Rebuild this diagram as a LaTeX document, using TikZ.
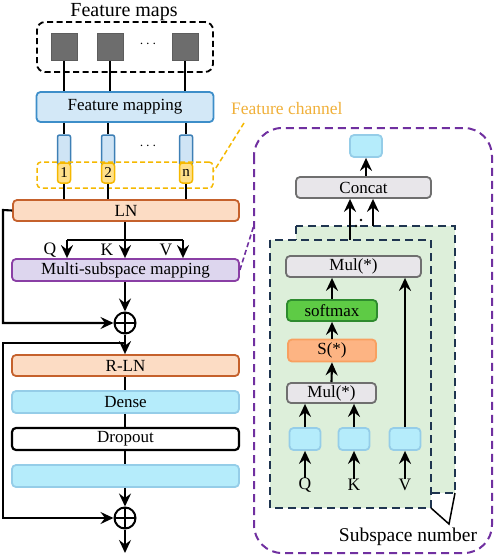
\documentclass[tikz,border=0pt]{standalone}
\usepackage{fontspec}
\setmainfont{Liberation Serif}
\usetikzlibrary{arrows.meta,calc}
\definecolor{sqgray}{HTML}{6D6D6D}
\definecolor{fmfill}{HTML}{D3E8F7}
\definecolor{fmdraw}{HTML}{3D8EC9}
\definecolor{tallfill}{HTML}{CFE4F5}
\definecolor{talldraw}{HTML}{3D7FB5}
\definecolor{yelfill}{HTML}{FFE08A}
\definecolor{yeldraw}{HTML}{F5B800}
\definecolor{chantext}{HTML}{F0B03A}
\definecolor{lnfill}{HTML}{FCDCC4}
\definecolor{lndraw}{HTML}{C5612C}
\definecolor{msfill}{HTML}{DDD6EE}
\definecolor{msdraw}{HTML}{8A3FA5}
\definecolor{cyfill}{HTML}{B5ECFB}
\definecolor{cydraw}{HTML}{95CDE8}
\definecolor{panel}{HTML}{7030A0}
\definecolor{grfill}{HTML}{DDEFDA}
\definecolor{navy}{HTML}{1F3550}
\definecolor{gyfill}{HTML}{E8E6EA}
\definecolor{gydraw}{HTML}{6F6F6F}
\definecolor{smfill}{HTML}{5ECB45}
\definecolor{smdraw}{HTML}{2E8B2E}
\definecolor{sfill}{HTML}{FDB483}
\definecolor{sdraw}{HTML}{F8A060}
\tikzset{
  bx/.style={rectangle, rounded corners=4pt, line width=1.8pt, inner sep=0pt,
    font=\fontsize{17}{18}\selectfont},
  sq/.style={rectangle, fill=sqgray, draw=sqgray!85!black, line width=0.6pt,
    minimum width=26pt, minimum height=27pt, inner sep=0pt},
  tall/.style={rectangle, rounded corners=2pt, fill=tallfill, draw=talldraw,
    line width=1.5pt, minimum width=13pt, minimum height=30pt, inner sep=0pt},
  yel/.style={rectangle, rounded corners=3pt, fill=yelfill, draw=yeldraw,
    line width=1.5pt, minimum width=13pt, minimum height=20pt, inner sep=0pt,
    font=\fontsize{15}{16}\selectfont},
  cy/.style={bx, fill=cyfill, draw=cydraw},
  gy/.style={bx, fill=gyfill, draw=gydraw},
  ln/.style={bx, fill=lnfill, draw=lndraw},
  lbl/.style={inner sep=0pt, font=\fontsize{17.5}{18}\selectfont},
  conn/.style={line width=2.1pt, black},
  arr/.style={conn, -{Stealth[length=13pt,width=12pt,inset=4.5pt]}},
  oplus/.style={circle, draw, line width=2pt, minimum size=21pt, inner sep=0pt,
    path picture={\draw[line width=1.8pt] (path picture bounding box.north)--(path picture bounding box.south)
      (path picture bounding box.west)--(path picture bounding box.east);}},
}
\begin{document}
\begin{tikzpicture}[x=1pt,y=-1pt]
\useasboundingbox (0,0) rectangle (498,560);
% ---------------- right panel background ----------------
\draw[panel, dash pattern=on 8pt off 5pt, line width=2pt, rounded corners=28pt]
  (254,128) rectangle (492,553);
\draw[navy, fill=grfill, dash pattern=on 8pt off 5pt, line width=1.8pt] (296,226) rectangle (455,493);
\draw[navy, fill=grfill, dash pattern=on 8pt off 5pt, line width=1.8pt] (270,240) rectangle (431,508);
% ---------------- left column ----------------
\node[lbl, font=\fontsize{20}{21}\selectfont] (title) at (124,12) {Feature maps};
\node[draw, dash pattern=on 6pt off 3.5pt, line width=1.8pt, rounded corners=8pt,
  minimum width=176pt, minimum height=50pt] (fmbox) at (125,47) {};
\node[sq] (s1) at (64,47) {};
\node[sq] (s2) at (110,47) {};
\node[sq] (s3) at (185,47) {};
\node[lbl, font=\fontsize{14}{14}\selectfont] (d1) at (148,44) {$\cdots$};
\node[bx, fill=fmfill, draw=fmdraw, minimum width=177pt, minimum height=30pt] (fmap) at (125,107) {Feature mapping};
\draw[conn] (s1.south) -- (s1.south |- fmap.north);
\draw[conn] (s2.south) -- (s2.south |- fmap.north);
\draw[conn] (s3.south) -- (s3.south |- fmap.north);
\node[tall] (t1) at (64,150) {};
\node[tall] (t2) at (108,150) {};
\node[tall] (t3) at (186,150) {};
\node[lbl, font=\fontsize{14}{14}\selectfont] (d2) at (148,146) {$\cdots$};
\draw[conn] (t1.north |- fmap.south) -- (t1.north);
\draw[conn] (t2.north |- fmap.south) -- (t2.north);
\draw[conn] (t3.north |- fmap.south) -- (t3.north);
\node[yel] (y1) at (64,173) {1};
\node[yel] (y2) at (108,173) {2};
\node[yel] (y3) at (186,173) {n};
\node[draw=yeldraw, dash pattern=on 5pt off 3pt, line width=1.5pt, rounded corners=4pt,
  minimum width=176pt, minimum height=26pt] (chbox) at (125,175) {};
\node[lbl, anchor=west, text=chantext] (chan) at (231,109) {Feature channel};
\coordinate (chA) at (244,123);
\coordinate (chB) at (214,171);
\draw[yeldraw, dash pattern=on 5pt off 3pt, line width=1.5pt] (chA) -- (chB);
\node[ln, minimum width=226pt, minimum height=21pt] (ln) at (126,210.5) {LN};
\draw[conn] (y1.south) -- (y1.south |- ln.north);
\draw[conn] (y2.south) -- (y2.south |- ln.north);
\draw[conn] (y3.south) -- (y3.south |- ln.north);
\node[bx, fill=msfill, draw=msdraw, minimum width=227pt, minimum height=22pt] (msm) at (125.5,270) {Multi-subspace mapping};
\coordinate (br) at (125,240);
\coordinate (bq) at (67,240);
\coordinate (bv) at (183,240);
\draw[conn] (ln.south -| br) -- (br);
\draw[conn] (bq) -- (bv);
\draw[arr] (bq) -- (bq |- msm.north);
\draw[arr] (br) -- (br |- msm.north);
\draw[arr] (bv) -- (bv |- msm.north);
\node[lbl] (lq) at (50,250) {Q};
\node[lbl] (lk) at (107,250) {K};
\node[lbl] (lv) at (166,250) {V};
\node[oplus] (op1) at (125,323) {};
\draw[arr] (msm.south -| op1) -- (op1.north);
\coordinate (sk1) at (3,210);
\coordinate (sk1b) at (3,323);
\draw[arr] (ln.west) -- (sk1) -- (sk1b) -- (op1.west);
\node[ln, minimum width=227pt, minimum height=21pt] (rln) at (125.5,365.5) {R-LN};
\draw[arr] (op1.south) -- (op1.south |- rln.north);
\coordinate (sk2) at (125,343);
\coordinate (sk2a) at (3,343);
\coordinate (sk2b) at (3,518);
\node[cy, minimum width=227pt, minimum height=22pt] (dense) at (125.5,402) {Dense};
\node[bx, fill=white, draw=black, line width=2.2pt, minimum width=227pt, minimum height=22pt] (drop) at (125.5,439) {Dropout};
\node[cy, minimum width=227pt, minimum height=22pt] (blank) at (125.5,476) {};
\draw[conn] (rln.south -| op1) -- (dense.north -| op1);
\draw[conn] (dense.south -| op1) -- (drop.north -| op1);
\draw[conn] (drop.south -| op1) -- (blank.north -| op1);
\node[oplus] (op2) at (125,518) {};
\draw[arr] (blank.south -| op2) -- (op2.north);
\draw[arr] (sk2) -- (sk2a) -- (sk2b) -- (op2.west);
\coordinate (out) at (125,553);
\draw[arr] (op2.south) -- (out);
% ---------------- right panel content ----------------
\coordinate (pl) at (254,225);
\draw[panel, dash pattern=on 5pt off 3pt, line width=1.6pt] (msm.east) -- (pl);
\node[cy, minimum width=32pt, minimum height=22pt] (top) at (366,146) {};
\node[gy, minimum width=135pt, minimum height=21pt] (concat) at (363.5,187.5) {Concat};
\draw[arr] (concat.north -| top) -- (top.south);
\coordinate (c1) at (350,240);
\coordinate (c2) at (373,226);
\draw[arr] (c1) -- (c1 |- concat.south);
\draw[arr] (c2) -- (c2 |- concat.south);
\fill (361,220) circle (1.4pt);
\fill (356,226) circle (1.4pt);
\node[gy, minimum width=135pt, minimum height=21pt] (mult) at (353.5,266.5) {Mul(*)};
\node[bx, fill=smfill, draw=smdraw, minimum width=90pt, minimum height=21pt] (soft) at (332,310.5) {softmax};
\node[bx, fill=sfill, draw=sdraw, minimum width=88pt, minimum height=22pt] (sst) at (332,350.5) {S(*)};
\node[gy, minimum width=89pt, minimum height=20pt] (mull) at (331.5,393) {Mul(*)};
\node[cy, minimum width=31pt, minimum height=22pt] (cq) at (305,439) {};
\node[cy, minimum width=31pt, minimum height=22pt] (ck) at (354,439) {};
\node[cy, minimum width=31pt, minimum height=22pt] (cv) at (405,439) {};
\node[lbl] (rq) at (305,485) {Q};
\node[lbl] (rk) at (354,485) {K};
\node[lbl] (rv) at (405,485) {V};
\draw[arr] (rq.north) -- (cq.south);
\draw[arr] (rk.north) -- (ck.south);
\draw[arr] (rv.north) -- (cv.south);
\draw[arr] (cq.north) -- (cq.north |- mull.south);
\draw[arr] (ck.north) -- (ck.north |- mull.south);
\draw[arr] (mull.north) -- (sst.south);
\draw[arr] (sst.north) -- (soft.south);
\draw[arr] (soft.north) -- (soft.north |- mult.south);
\draw[arr] (cv.north) -- (cv.north |- mult.south);
\node[lbl, font=\fontsize{19.5}{20}\selectfont] (subn) at (408,537) {Subspace number};
\coordinate (fbr) at (431,508);
\coordinate (sv) at (449,524);
\coordinate (bbr) at (455,493);
\draw[conn, line width=1.5pt] (fbr) -- (sv) -- (bbr);
\end{tikzpicture}
\end{document}
